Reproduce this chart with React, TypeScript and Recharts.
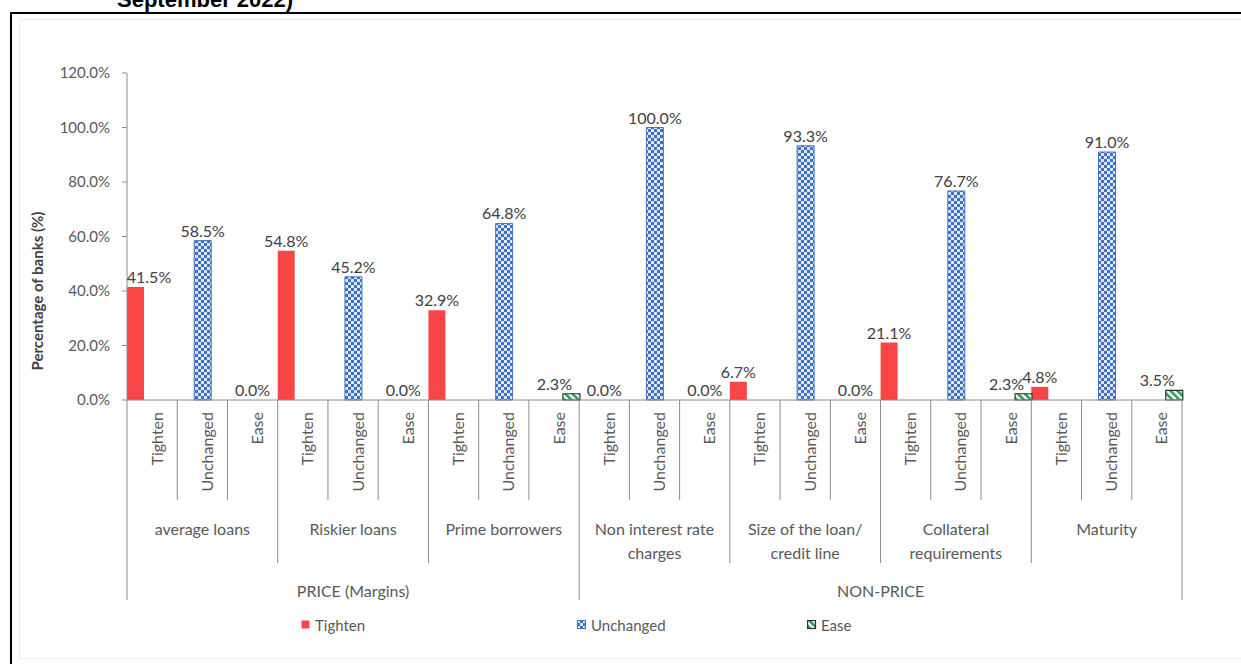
import React from 'react';
import { BarChart, Bar, XAxis, YAxis, Legend, LabelList, Label } from 'recharts';

// Survey answers per credit-standard item, split by response
const subCategories = ['Tighten', 'Unchanged', 'Ease'];
const groupLabels = [
  ['average loans'],
  ['Riskier loans'],
  ['Prime borrowers'],
  ['Non interest rate', 'charges'],
  ['Size of the loan/', 'credit line'],
  ['Collateral', 'requirements'],
  ['Maturity'],
];
const sections = ['PRICE (Margins)', 'NON-PRICE'];
const sectionGroupCounts = [3, 4];

const tightenValues = [41.5, 54.8, 32.9, 0.0, 6.7, 21.1, 4.8];
const unchangedValues = [58.5, 45.2, 64.8, 100.0, 93.3, 76.7, 91.0];
const easeValues = [0.0, 0.0, 2.3, 0.0, 0.0, 2.3, 3.5];

const yTicks = [0, 20, 40, 60, 80, 100, 120];

const WIDTH = 1241;
const HEIGHT = 664;
const PLOT_LEFT = 127;
const PLOT_RIGHT = 1182;
const PLOT_TOP = 73;
const PLOT_BOTTOM = 400;
const SLOT = (PLOT_RIGHT - PLOT_LEFT) / (groupLabels.length * subCategories.length);

const FONT = 'Lato, "Open Sans", sans-serif';
const AXIS_GRAY = '#8c8c8c';
const TEXT_GRAY = '#595959';
const LABEL_GRAY = '#404040';
const RED = '#f84646';
const BLUE = '#4472c4';
const GREEN_EDGE = '#1d3b29';

const seriesValues = [tightenValues, unchangedValues, easeValues];

// one row per (item, response); each series only fills its own slot
const rows = groupLabels.flatMap((_, g) =>
  subCategories.map((sub, s) => ({
    key: `${g}-${sub}`,
    sub,
    tighten: s === 0 ? tightenValues[g] : null,
    unchanged: s === 1 ? unchangedValues[g] : null,
    ease: s === 2 ? easeValues[g] : null,
  }))
);

const sectionStarts = sectionGroupCounts.map((_, i) =>
  sectionGroupCounts.slice(0, i).reduce((a, b) => a + b, 0)
);

const fmt = (v: number) => `${v.toFixed(1)}%`;

const CategoryTick = (props: any) => {
  const { x, index } = props;
  const g = Math.floor(index / subCategories.length);
  const s = index % subCategories.length;
  const left = x - SLOT / 2;
  const sectionIdx = s === 0 ? sectionStarts.indexOf(g) : -1;
  const sepBottom = sectionIdx >= 0 ? 600 : s === 0 ? 563 : 500;
  const isLast = index === rows.length - 1;
  const textStyle = { fontFamily: FONT, fontSize: 16, fill: TEXT_GRAY };
  const own = seriesValues[s][g];

  return (
    <g>
      <line x1={left} x2={left} y1={PLOT_BOTTOM} y2={sepBottom} stroke={AXIS_GRAY} />
      {isLast && (
        <line x1={x + SLOT / 2} x2={x + SLOT / 2} y1={PLOT_BOTTOM} y2={600} stroke={AXIS_GRAY} />
      )}
      {/* a zero response has no bar, so its label sits mid-slot on the axis */}
      {own === 0 && (
        <text x={x} y={PLOT_BOTTOM - 4} textAnchor="middle" style={{ fontFamily: FONT, fontSize: 16, fill: LABEL_GRAY }}>
          {fmt(own)}
        </text>
      )}
      <text
        transform={`translate(${x + 4},${PLOT_BOTTOM + 12}) rotate(-90)`}
        textAnchor="end"
        dominantBaseline="central"
        style={textStyle}
      >
        {rows[index].sub}
      </text>
      {s === 1 &&
        groupLabels[g].map((line, i) => (
          <text key={i} x={x} y={528 + i * 24} textAnchor="middle" dominantBaseline="central" style={textStyle}>
            {line}
          </text>
        ))}
      {sectionIdx >= 0 && (
        <text
          x={left + (sectionGroupCounts[sectionIdx] * subCategories.length * SLOT) / 2}
          y={590}
          textAnchor="middle"
          dominantBaseline="central"
          style={textStyle}
        >
          {sections[sectionIdx]}
        </text>
      )}
    </g>
  );
};

// value label above each bar; shift moves it sideways by a fraction of the bar width
const makeValueLabel = (shift: number) => (props: any) => {
  const { x, y, width, value } = props;
  if (value === null || value === undefined || value === 0) return null;
  let cx = Number(x) + Number(width) / 2 + shift * Number(width);
  cx = Math.max(cx, PLOT_LEFT + 22);
  return (
    <text
      x={cx}
      y={Number(y) - 4}
      textAnchor="middle"
      style={{ fontFamily: FONT, fontSize: 16, fill: LABEL_GRAY }}
    >
      {fmt(Number(value))}
    </text>
  );
};

const renderYTitle = () => (
  <text
    transform="translate(37,291) rotate(-90)"
    textAnchor="middle"
    dominantBaseline="central"
    style={{ fontFamily: FONT, fontSize: 15, fontWeight: 700, fill: LABEL_GRAY }}
  >
    Percentage of banks  (%)
  </text>
);

const LEGEND_X = [301, 577, 807];

const LegendIcon = ({ kind }: { kind: number }) => {
  if (kind === 0) return <rect x={0.5} y={0.5} width={8} height={8} fill={RED} />;
  if (kind === 1) return <rect x={0.5} y={0.5} width={8} height={8} fill="url(#checker)" stroke={BLUE} />;
  return <rect x={0.5} y={0.5} width={8} height={8} fill="url(#diag)" stroke={GREEN_EDGE} strokeWidth={1.2} />;
};

const renderLegend = () => (
  <div style={{ position: 'relative', width: WIDTH, height: 30 }}>
    {subCategories.map((name, i) => (
      <div
        key={name}
        style={{
          position: 'absolute',
          left: LEGEND_X[i],
          top: 0,
          height: 30,
          display: 'flex',
          alignItems: 'center',
          fontFamily: FONT,
          fontSize: 15,
          color: TEXT_GRAY,
        }}
      >
        <svg width={10} height={10} style={{ marginRight: 4 }}>
          <LegendIcon kind={i} />
        </svg>
        {name}
      </div>
    ))}
  </div>
);

export default function App() {
  return (
    <div style={{ position: 'absolute', left: 0, top: 0, width: WIDTH, height: HEIGHT, overflow: 'hidden', background: '#fff' }}>
      <div
        style={{
          position: 'absolute',
          left: 117,
          top: -11,
          fontFamily: '"Liberation Sans", Arial, sans-serif',
          fontWeight: 700,
          fontSize: 22,
          lineHeight: '22px',
          color: '#000',
          whiteSpace: 'nowrap',
        }}
      >
        September 2022)
      </div>
      <div style={{ position: 'absolute', left: 10, top: 12, width: 1400, height: 800, border: '2px solid #000' }} />
      <div style={{ position: 'absolute', left: 19, top: 19, width: 1400, height: 638, border: '1px solid #ececec' }} />
      <div style={{ position: 'absolute', left: 0, top: 0 }}>
        <BarChart
          width={WIDTH}
          height={HEIGHT}
          data={rows}
          margin={{ top: PLOT_TOP, right: WIDTH - PLOT_RIGHT, bottom: 24, left: 0 }}
          barCategoryGap={0}
          barGap={0}
        >
          <defs>
            <pattern id="checker" width="6" height="6" patternUnits="userSpaceOnUse">
              <rect width="6" height="6" fill="#3f6fc6" />
              <rect width="3" height="3" fill="#dce8f8" />
              <rect x="3" y="3" width="3" height="3" fill="#dce8f8" />
            </pattern>
            <pattern id="diag" width="5" height="5" patternUnits="userSpaceOnUse" patternTransform="rotate(-45)">
              <rect width="5" height="5" fill="#ffffff" />
              <rect width="2.6" height="5" fill="#2e9a57" />
            </pattern>
          </defs>
          <XAxis
            dataKey="key"
            interval={0}
            height={210}
            tickLine={false}
            axisLine={{ stroke: AXIS_GRAY }}
            tick={<CategoryTick />}
          />
          <XAxis xAxisId="frame" dataKey="key" orientation="top" height={0} tick={false} tickLine={false} axisLine={{ stroke: '#a6a6a6' }} />
          <YAxis
            width={PLOT_LEFT}
            domain={[0, 120]}
            ticks={yTicks}
            interval={0}
            tickFormatter={(v: number) => fmt(v)}
            tick={{ fill: TEXT_GRAY, fontSize: 15, fontFamily: FONT }}
            tickLine={{ stroke: AXIS_GRAY }}
            tickSize={5}
            tickMargin={12}
            axisLine={{ stroke: AXIS_GRAY }}
          >
            <Label content={renderYTitle} />
          </YAxis>
          <YAxis yAxisId="frame" orientation="right" width={0} domain={[0, 120]} tick={false} tickLine={false} axisLine={{ stroke: '#a6a6a6' }} />
          <Legend verticalAlign="bottom" content={renderLegend} />
          <Bar dataKey="tighten" fill={RED} isAnimationActive={false}>
            <LabelList dataKey="tighten" content={makeValueLabel(0)} />
          </Bar>
          <Bar dataKey="unchanged" fill="url(#checker)" stroke={BLUE} strokeWidth={1} isAnimationActive={false}>
            <LabelList dataKey="unchanged" content={makeValueLabel(0)} />
          </Bar>
          <Bar dataKey="ease" fill="url(#diag)" stroke={GREEN_EDGE} strokeWidth={1.2} isAnimationActive={false}>
            <LabelList dataKey="ease" content={makeValueLabel(-1)} />
          </Bar>
        </BarChart>
      </div>
    </div>
  );
}
